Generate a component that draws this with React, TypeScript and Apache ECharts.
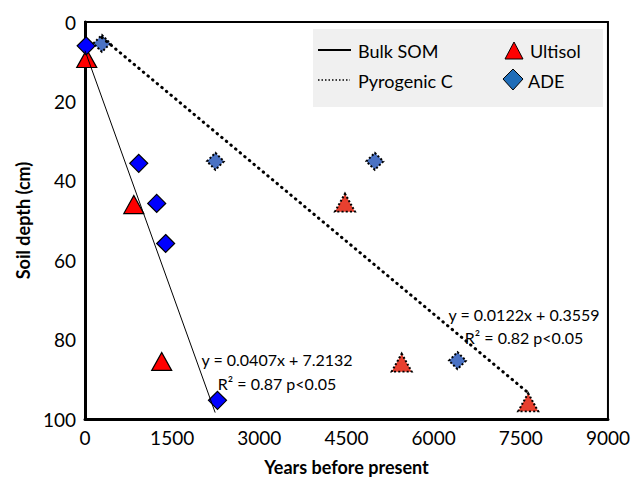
import React, { useEffect, useRef } from "react";
import * as echarts from "echarts";

// ---- data ----
const xTicks = [0, 1500, 3000, 4500, 6000, 7500, 9000];
const yTicks = [0, 20, 40, 60, 80, 100];

// Bulk SOM (solid outline)
const bulkADE: [number, number][] = [[20, 6], [925, 35.6], [1234, 45.7], [1388, 55.8], [2280, 95.3]];
const bulkUltisol: [number, number][] = [[30, 9.2], [840, 46], [1320, 85.5]];
// Pyrogenic C (dotted outline)
const pyroADE: [number, number][] = [[291, 5.4], [2245, 35.1], [4988, 35.1], [6410, 85.3]];
const pyroUltisol: [number, number][] = [[4474, 45.5], [5450, 85.8], [7627, 95.8]];

// regressions: depth = slope * years + intercept
const bulkFit = { slope: 0.0407, intercept: 7.2132, xRange: [0, 2240], r2: 0.87 };
const pyroFit = { slope: 0.0122, intercept: 0.3559, xRange: [290, 7630], r2: 0.82 };

const FONT = "Lato";

function fitLine(f: { slope: number; intercept: number; xRange: number[] }) {
  return f.xRange.map((x) => [x, f.slope * x + f.intercept]);
}

export default function App() {
  const ref = useRef<HTMLDivElement>(null);
  useEffect(() => {
    if (!ref.current) return;
    const chart = echarts.init(ref.current, null, { renderer: "svg" });
    const labelStyle = { fontFamily: FONT, fontSize: 19, color: "#000" };
    chart.setOption({
      animation: false,
      backgroundColor: "#fff",
      grid: { left: 85, right: 23, top: 22, bottom: 52, show: true, borderColor: "#000", borderWidth: 2 },
      xAxis: {
        type: "value",
        min: xTicks[0],
        max: xTicks[xTicks.length - 1],
        interval: xTicks[1] - xTicks[0],
        axisLine: { show: true, onZero: false, lineStyle: { color: "#000", width: 3 } },
        axisTick: { show: false },
        splitLine: { show: false },
        axisLabel: { ...labelStyle, margin: 9, formatter: (v: number) => String(v) },
        name: "Years before present",
        nameLocation: "middle",
        nameGap: 39,
        nameTextStyle: { fontFamily: FONT, fontSize: 18, fontWeight: "bold", color: "#000" },
      },
      yAxis: {
        type: "value",
        inverse: true,
        min: yTicks[0],
        max: yTicks[yTicks.length - 1],
        interval: yTicks[1] - yTicks[0],
        axisLine: { show: true, onZero: false, lineStyle: { color: "#000", width: 3 } },
        axisTick: { show: false },
        splitLine: { show: false },
        axisLabel: { ...labelStyle, margin: 9, formatter: (v: number) => String(v) },
        name: "Soil depth (cm)",
        nameLocation: "middle",
        nameGap: 52,
        nameTextStyle: { fontFamily: FONT, fontSize: 18, fontWeight: "bold", color: "#000" },
      },
      series: [
        {
          type: "scatter", data: bulkUltisol, symbol: "triangle", symbolSize: [20, 18], z: 3,
          itemStyle: { color: "#FF0000", borderColor: "#000", borderWidth: 1.2, opacity: 1 },
        },
        {
          type: "scatter", data: bulkADE, symbol: "diamond", symbolSize: [18, 18], z: 3,
          itemStyle: { color: "#0000FF", borderColor: "#000", borderWidth: 1.2, opacity: 1 },
        },
        {
          type: "scatter", data: pyroUltisol, symbol: "triangle", symbolSize: [20, 18], z: 3,
          itemStyle: { color: "#E8402F", borderColor: "#000", borderWidth: 2, borderType: "dotted", opacity: 1 },
        },
        {
          type: "scatter", data: pyroADE, symbol: "diamond", symbolSize: [17, 17], z: 3,
          itemStyle: { color: "#4A72C4", borderColor: "#000", borderWidth: 2, borderType: "dotted", opacity: 1 },
        },
        {
          type: "line", data: fitLine(bulkFit), showSymbol: false, symbol: "none", z: 4,
          lineStyle: { color: "#000", width: 1 },
        },
        {
          type: "line", data: fitLine(pyroFit), showSymbol: false, symbol: "none", z: 4,
          lineStyle: { color: "#000", width: 3, type: [0.5, 5.5], cap: "round" },
        },
      ],
      graphic: [
        // legend
        { type: "rect", shape: { x: 313, y: 29, width: 290, height: 78 }, style: { fill: "#F0F0F0" }, z: 10 },
        { type: "line", shape: { x1: 318, y1: 50, x2: 351, y2: 50 }, style: { stroke: "#000", lineWidth: 2 }, z: 11 },
        { type: "text", x: 358, y: 51, style: { text: "Bulk SOM", fontFamily: FONT, fontSize: 18, fill: "#000", verticalAlign: "middle" }, z: 11 },
        { type: "line", shape: { x1: 318, y1: 80, x2: 350, y2: 80 }, style: { stroke: "#000", lineWidth: 1.5, lineDash: [1.5, 2] }, z: 11 },
        { type: "text", x: 358, y: 81, style: { text: "Pyrogenic C", fontFamily: FONT, fontSize: 18, fill: "#000", verticalAlign: "middle" }, z: 11 },
        { type: "polygon", shape: { points: [[514, 42], [523, 59], [505, 59]] }, style: { fill: "#FF0000", stroke: "#000", lineWidth: 1 }, z: 11 },
        { type: "text", x: 530, y: 51, style: { text: "Ultisol", fontFamily: FONT, fontSize: 18, fill: "#000", verticalAlign: "middle" }, z: 11 },
        { type: "polygon", shape: { points: [[513, 69], [523, 79], [513, 90], [503, 79]] }, style: { fill: "#1F6DB8", stroke: "#000", lineWidth: 1 }, z: 11 },
        { type: "text", x: 528, y: 81, style: { text: "ADE", fontFamily: FONT, fontSize: 18, fill: "#000", verticalAlign: "middle" }, z: 11 },
        // equations
        {
          type: "text", x: 277, y: 359, z: 11,
          style: { text: `y = ${bulkFit.slope}x + ${bulkFit.intercept}`, fontFamily: FONT, fontSize: 16, fill: "#000", align: "center", verticalAlign: "middle" },
        },
        {
          type: "text", x: 277, y: 383, z: 11,
          style: { text: `R² = ${bulkFit.r2} p<0.05`, fontFamily: FONT, fontSize: 16, fill: "#000", align: "center", verticalAlign: "middle" },
        },
        {
          type: "text", x: 524, y: 314, z: 11,
          style: { text: `y = ${pyroFit.slope}x + ${pyroFit.intercept}`, fontFamily: FONT, fontSize: 16, fill: "#000", align: "center", verticalAlign: "middle" },
        },
        {
          type: "text", x: 524, y: 337, z: 11,
          style: { text: `R² = ${pyroFit.r2} p<0.05`, fontFamily: FONT, fontSize: 16, fill: "#000", align: "center", verticalAlign: "middle" },
        },
      ],
    });
    return () => chart.dispose();
  }, []);
  return <div ref={ref} style={{ position: "fixed", left: 0, top: 0, width: 633, height: 481 }} />;
}
